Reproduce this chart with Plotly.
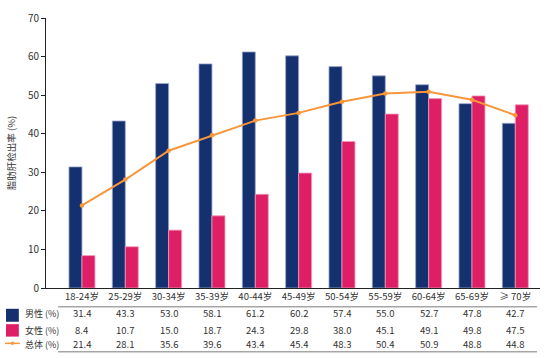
import plotly.graph_objects as go

categories = ["18-24岁", "25-29岁", "30-34岁", "35-39岁", "40-44岁", "45-49岁",
              "50-54岁", "55-59岁", "60-64岁", "65-69岁", "≥ 70岁"]
male = [31.4, 43.3, 53.0, 58.1, 61.2, 60.2, 57.4, 55.0, 52.7, 47.8, 42.7]
female = [8.4, 10.7, 15.0, 18.7, 24.3, 29.8, 38.0, 45.1, 49.1, 49.8, 47.5]
total = [21.4, 28.1, 35.6, 39.6, 43.4, 45.4, 48.3, 50.4, 50.9, 48.8, 44.8]
row_labels = ["男性 (%)", "女性 (%)", "总体 (%)"]

NAVY = "#15306e"
PINK = "#de1f66"
ORANGE = "#f7963a"
FONT = "Noto Sans CJK SC"
TXT = "#333333"
FS = 9.5

fig = go.Figure()
fig.add_trace(go.Bar(x=categories, y=male, name=row_labels[0],
                     marker=dict(color=NAVY, line=dict(color="#9aa8cc", width=0.8))))
fig.add_trace(go.Bar(x=categories, y=female, name=row_labels[1],
                     marker=dict(color=PINK, line=dict(color="#f39ab9", width=0.8))))
fig.add_trace(go.Scatter(x=categories, y=total, name=row_labels[2], mode="lines+markers",
                         line=dict(color=ORANGE, width=2),
                         marker=dict(color=ORANGE, size=4.5)))

# table rows
row_y = [-0.094, -0.156, -0.208]
for vals, yy in zip([male, female, total], row_y):
    for c, v in zip(categories, vals):
        fig.add_annotation(x=c, xref="x", y=yy, yref="paper", text=f"{v:.1f}",
                           showarrow=False, yanchor="middle",
                           font=dict(family=FONT, size=FS, color=TXT))
for lab, yy in zip(row_labels, row_y):
    fig.add_annotation(x=-0.046, xref="paper", y=yy, yref="paper", text=lab,
                       showarrow=False, xanchor="left", yanchor="middle",
                       font=dict(family=FONT, size=9, color=TXT))

shapes = []
# legend icons
shapes.append(dict(type="rect", xref="paper", yref="paper", x0=-0.081, x1=-0.055,
                   y0=-0.125, y1=-0.077, fillcolor=NAVY, line=dict(width=0)))
shapes.append(dict(type="rect", xref="paper", yref="paper", x0=-0.081, x1=-0.055,
                   y0=-0.180, y1=-0.134, fillcolor=PINK, line=dict(width=0)))
shapes.append(dict(type="line", xref="paper", yref="paper", x0=-0.083, x1=-0.053,
                   y0=-0.205, y1=-0.205, line=dict(color=ORANGE, width=1.5)))
shapes.append(dict(type="circle", xref="paper", yref="paper", x0=-0.0715, x1=-0.0645,
                   y0=-0.2115, y1=-0.1985, fillcolor=ORANGE, line=dict(width=0)))
# table lines
for yy in [-0.069, -0.236]:
    shapes.append(dict(type="line", xref="x", yref="paper", x0=-0.55, x1=10.5,
                       y0=yy, y1=yy, line=dict(color="#a6a6a6", width=1.5)))

fig.update_layout(
    width=549, height=358,
    margin=dict(l=46, r=9, t=12, b=70),
    plot_bgcolor="white", paper_bgcolor="white",
    barmode="group", bargap=0.4, bargroupgap=0,
    showlegend=False,
    shapes=shapes,
    font=dict(family=FONT, size=FS, color=TXT),
    xaxis=dict(type="category", range=[-0.83, 10.57], showline=True, linecolor="#222",
               linewidth=1, ticks="", showgrid=False, zeroline=False,
               tickfont=dict(family=FONT, size=FS, color=TXT)),
    yaxis=dict(range=[0, 70], dtick=10, showline=True, linecolor="#222", linewidth=1,
               ticks="outside", ticklen=4, tickcolor="#222", showgrid=False,
               zeroline=False, tickfont=dict(family=FONT, size=10, color=TXT),
               title=dict(text="脂肪肝检出率 (%)", font=dict(family=FONT, size=9.5, color=TXT),
                          standoff=10)),
)

fig.write_html("out.html", config={"displayModeBar": False},
               post_script="document.body.style.margin='0';document.body.style.overflow='hidden';")
